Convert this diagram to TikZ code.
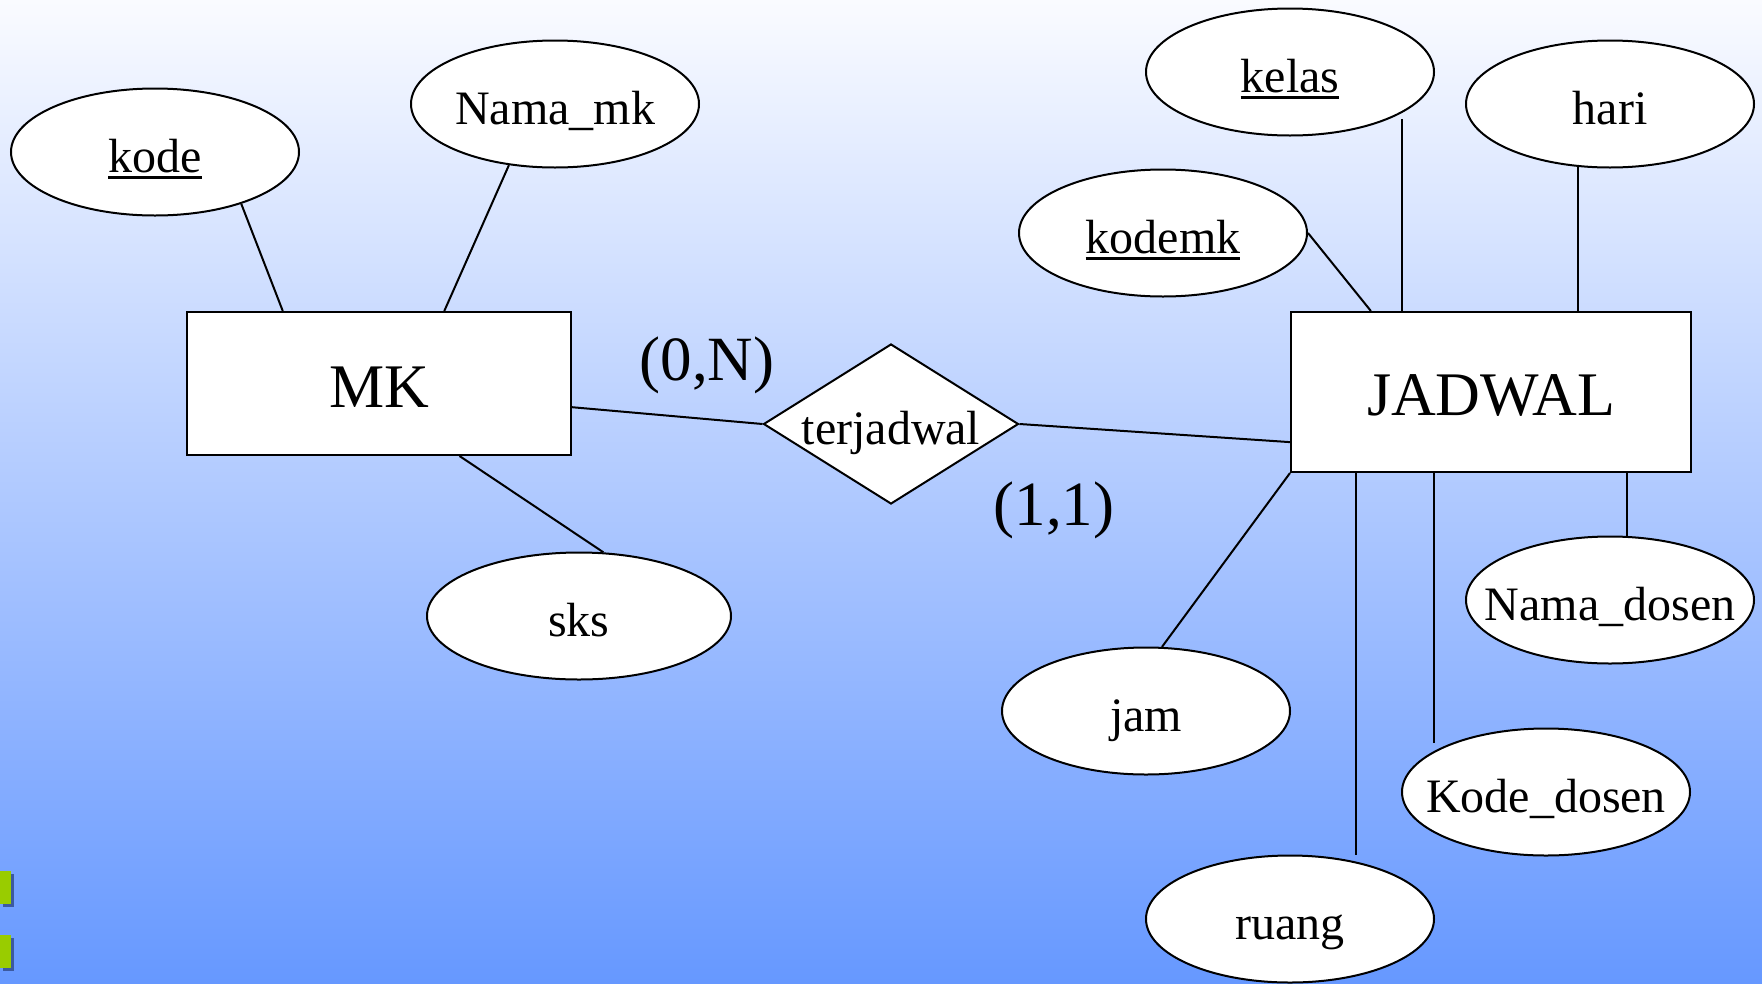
\documentclass[tikz,border=0pt]{standalone}
\usepackage{fontspec}
\setmainfont{Liberation Serif}
\usetikzlibrary{shapes.geometric}

\definecolor{bgtop}{RGB}{250,251,255}
\definecolor{bgbottom}{RGB}{102,152,255}
\definecolor{bullet}{RGB}{153,204,0}
\definecolor{bulletshadow}{RGB}{60,90,160}

% underlined key attribute
\newcommand{\keyattr}[1]{\setbox0\hbox{#1}\rlap{\rule[-6pt]{\wd0}{2.5pt}}#1}

\begin{document}
\begin{tikzpicture}[x=1pt,y=-1pt,line width=2pt,
	entity/.style={draw,fill=white,rectangle,inner sep=0pt,
		text height=47pt,text depth=0pt,
		font=\fontsize{62}{70}\selectfont},
	attr/.style={draw,fill=white,ellipse,inner sep=0pt,inner xsep=-24pt,
		minimum width=288pt,minimum height=127pt,
		text height=41pt,text depth=0pt,
		font=\fontsize{48}{56}\selectfont},
	rel/.style={draw,fill=white,diamond,inner sep=0pt,aspect=1.6,
		minimum width=255pt,minimum height=160pt,
		text height=41pt,text depth=0pt,
		font=\fontsize{48}{56}\selectfont},
	card/.style={inner sep=0pt,font=\fontsize{63}{70}\selectfont}]

\useasboundingbox (0,0) rectangle (1762,983);
\shade[top color=bgtop,bottom color=bgbottom] (0,0) rectangle (1762,983);

% bullets at the lower left
\foreach \y in {871,935}
{
	\fill[bulletshadow] (3,\y+3) rectangle (14,\y+36);
	\fill[bullet] (0,\y) rectangle (11,\y+33);
};

\node[entity,minimum width=384pt,minimum height=143pt] (mk) at (379,383.5) {MK};
\node[entity,minimum width=400pt,minimum height=160pt] (jadwal) at (1491,392) {JADWAL};
\node[rel] (terjadwal) at (891,424) {terjadwal};

\node[attr] (kode) at (155,152) {\keyattr{kode}};
\node[attr] (namamk) at (555,104) {Nama\_mk};
\node[attr,minimum width=304pt] (sks) at (579,616) {sks};

\node[attr] (kelas) at (1290,72) {\keyattr{kelas}};
\node[attr] (hari) at (1610,104) {hari};
\node[attr] (kodemk) at (1163,233) {\keyattr{kodemk}};
\node[attr] (namadosen) at (1610,600) {Nama\_dosen};
\node[attr] (jam) at (1146,711) {jam};
\node[attr] (kodedosen) at (1546,792) {Kode\_dosen};
\node[attr] (ruang) at (1290,919) {ruang};

\node[card] (cardmk) at (707,365) {(0,N)};
\node[card] (cardjadwal) at (1054,510) {(1,1)};

% MK
\draw (kode.-31) -- (mk.143.6);
\draw (namamk.-127.7) -- (mk.48.2);
\draw (sks.69) -- (mk.-42.1);
\draw (mk.-7.3) -- (terjadwal.west);
\draw (terjadwal.east) -- (jadwal.-166.8);

% JADWAL
\draw (kodemk.east) -- (jadwal.146.5);
\draw[shorten <=6pt] (kelas.-20) -- (kelas.-20 |- jadwal.north);
\draw (hari.-117) -- (hari.-117 |- jadwal.north);
\draw (jadwal.south west) -- (jam.76);
\draw[shorten >=7pt] (ruang.41 |- jadwal.south) -- (ruang.41);
\draw[shorten >=8pt] (kodedosen.160 |- jadwal.south) -- (kodedosen.160);
\draw (namadosen.75 |- jadwal.south) -- (namadosen.75);
\end{tikzpicture}
\end{document}
